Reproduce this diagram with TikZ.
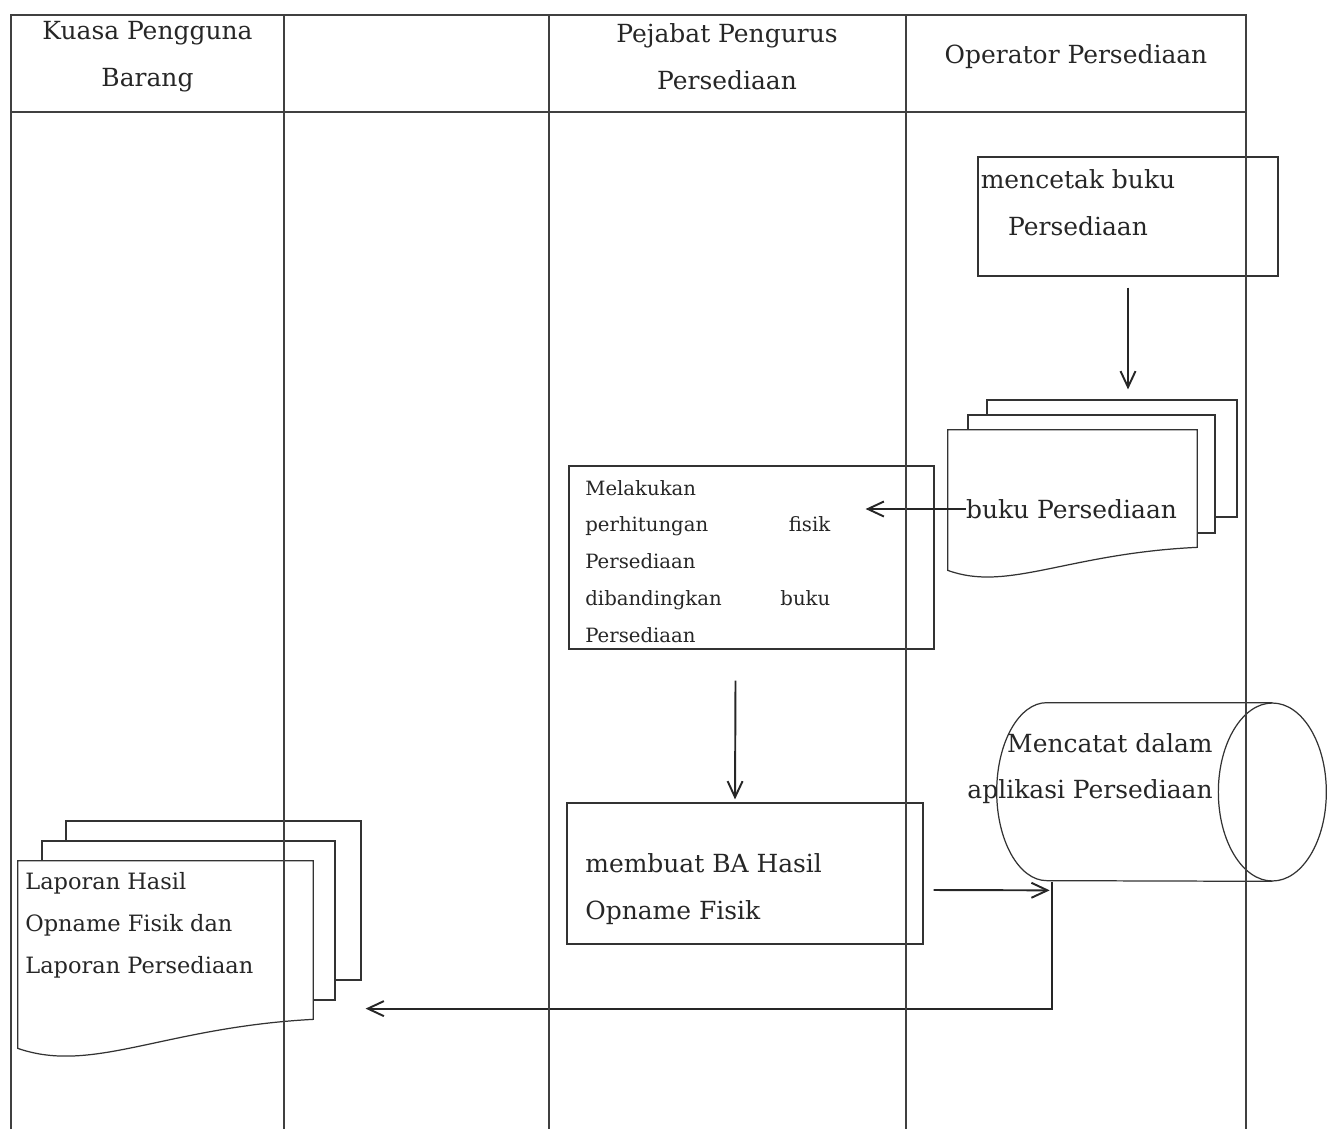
\documentclass[tikz,border=0pt]{standalone}
\usepackage{fontspec}
\setmainfont{DejaVu Serif}
\usetikzlibrary{positioning,calc,arrows.meta}

\begin{document}
\begin{tikzpicture}[x=0.02cm, y=-0.02cm]
	\tikzset{
		mybox/.style={rectangle, draw=black!80, line width=0.7pt, inner sep=0pt},
		mysheet/.style={rectangle, draw=black!80, fill=white, line width=0.7pt, inner sep=0pt},
		mytext/.style={inner sep=0pt, text=black!85, font=\fontsize{14.2}{26.5}\selectfont},
		mylane/.style={draw=black!75, line width=0.6pt},
		myarrow/.style={-{Straight Barb[length=0.32cm, width=0.3cm]}, line width=1.1pt, draw=black!85}
	}
	\useasboundingbox (0,0) rectangle (1327,1129);

	% judul kolom
	\node[mytext, align=center] (kuasa) at (147.5,56.5) {Kuasa Pengguna\\Barang};
	\node[mytext, align=center] (pejabat) at (727,56.5) {Pejabat Pengurus\\Persediaan};
	\node[mytext, align=center] (operator) at (1076,57) {Operator Persediaan};

	% mencetak buku
	\node[mybox, minimum width=6cm, minimum height=2.38cm] (cetak) at (1128,216.5) {};
	\node[mytext, align=center] (cetakTeks) at (1078,202.5) {mencetak buku\\Persediaan};

	% buku persediaan
	\node[mysheet, minimum width=5cm, minimum height=2.34cm] (bukuBelakang) at (1112,458.5) {};
	\node[mysheet, minimum width=4.94cm, minimum height=2.36cm] (bukuTengah) at (1091.5,474) {};
	\node[minimum width=4.98cm, minimum height=2.34cm, inner sep=0pt] (bukuDepan) at (1072.5,488.5) {};
	\draw[draw=black!80, fill=white, line width=0.7pt] (bukuDepan.north west) -- (bukuDepan.north east) -- (bukuDepan.south east)
		.. controls +(-130,6) and +(60,22) .. ($(bukuDepan.south west)+(0,23)$) -- cycle;
	\node[mytext] (bukuTeks) at (1071.5,509) {buku Persediaan};

	% perhitungan fisik
	\node[mybox, minimum width=7.3cm, minimum height=3.66cm] (melakukan) at (751.5,557.5) {};
	\node[mytext, anchor=west, text width=4.9cm, align=left, font=\fontsize{11.2}{21}\selectfont] (melakukanTeks) at (585,561.5)
		{Melakukan\\perhitungan\hfill fisik\\Persediaan\\dibandingkan\hfill buku\\Persediaan};

	% BA hasil opname
	\node[mybox, minimum width=7.12cm, minimum height=2.82cm] (membuat) at (745,873.5) {};
	\node[mytext, anchor=west, align=left] (membuatTeks) at (585,889) {membuat BA Hasil\\Opname Fisik};

	% aplikasi persediaan
	\node[minimum width=4.5cm, minimum height=3.56cm, inner sep=0pt] (mencatat) at (1159.5,792) {};
	\draw[draw=black!80, line width=0.7pt] (mencatat.north east) -- (mencatat.north west)
		arc[start angle=90, end angle=270, x radius=1cm, y radius=1.78cm] -- (mencatat.south east);
	\draw[draw=black!80, line width=0.7pt] (mencatat.east) ellipse[x radius=1.08cm, y radius=1.78cm];
	\node[mytext, anchor=east, align=right] (mencatatTeks) at (1213,768.5) {Mencatat dalam\\aplikasi Persediaan};

	% laporan
	\node[mysheet, minimum width=5.9cm, minimum height=3.18cm] (laporanBelakang) at (213.5,900.5) {};
	\node[mysheet, minimum width=5.86cm, minimum height=3.18cm] (laporanTengah) at (188.5,920.5) {};
	\node[minimum width=5.9cm, minimum height=3.16cm, inner sep=0pt] (laporanDepan) at (165.5,940) {};
	\draw[draw=black!80, fill=white, line width=0.7pt] (laporanDepan.north west) -- (laporanDepan.north east) -- (laporanDepan.south east)
		.. controls +(-150,8) and +(75,26) .. ($(laporanDepan.south west)+(0,29)$) -- cycle;
	\node[mytext, anchor=west, align=left, font=\fontsize{12.8}{23.9}\selectfont] (laporanTeks) at (25,925)
		{Laporan Hasil\\Opname Fisik dan\\Laporan Persediaan};

	% panah
	\draw[myarrow, shorten <=0.22cm, shorten >=0.2cm] (cetak.south) -- (cetak.south |- bukuBelakang.north);
	\draw[myarrow, shorten >=-1.38cm] (bukuTeks.west) -- (bukuTeks.west -| melakukan.east);
	\draw[myarrow] ($(melakukan.south)+(-16,31)$) -- ($(membuat.north)+(-10,-3)$);
	\draw[myarrow] ($(membuat.east)+(10,16.5)$) -- ($(mencatat.south west)+(3,9)$);
	\draw[myarrow] ($(mencatat.south west)+(5,1)$) |- ($(laporanBelakang.south east)+(4,28)$);

	% garis kolom
	\draw[mylane] (11,1129) -- (11,15) -- (1246,15) -- (1246,1129);
	\draw[mylane, line width=1.1pt] (11,112) -- (1246,112);
	\foreach \x in {284,549,906}
		\draw[mylane] (\x,15) -- (\x,1129);
\end{tikzpicture}
\end{document}
